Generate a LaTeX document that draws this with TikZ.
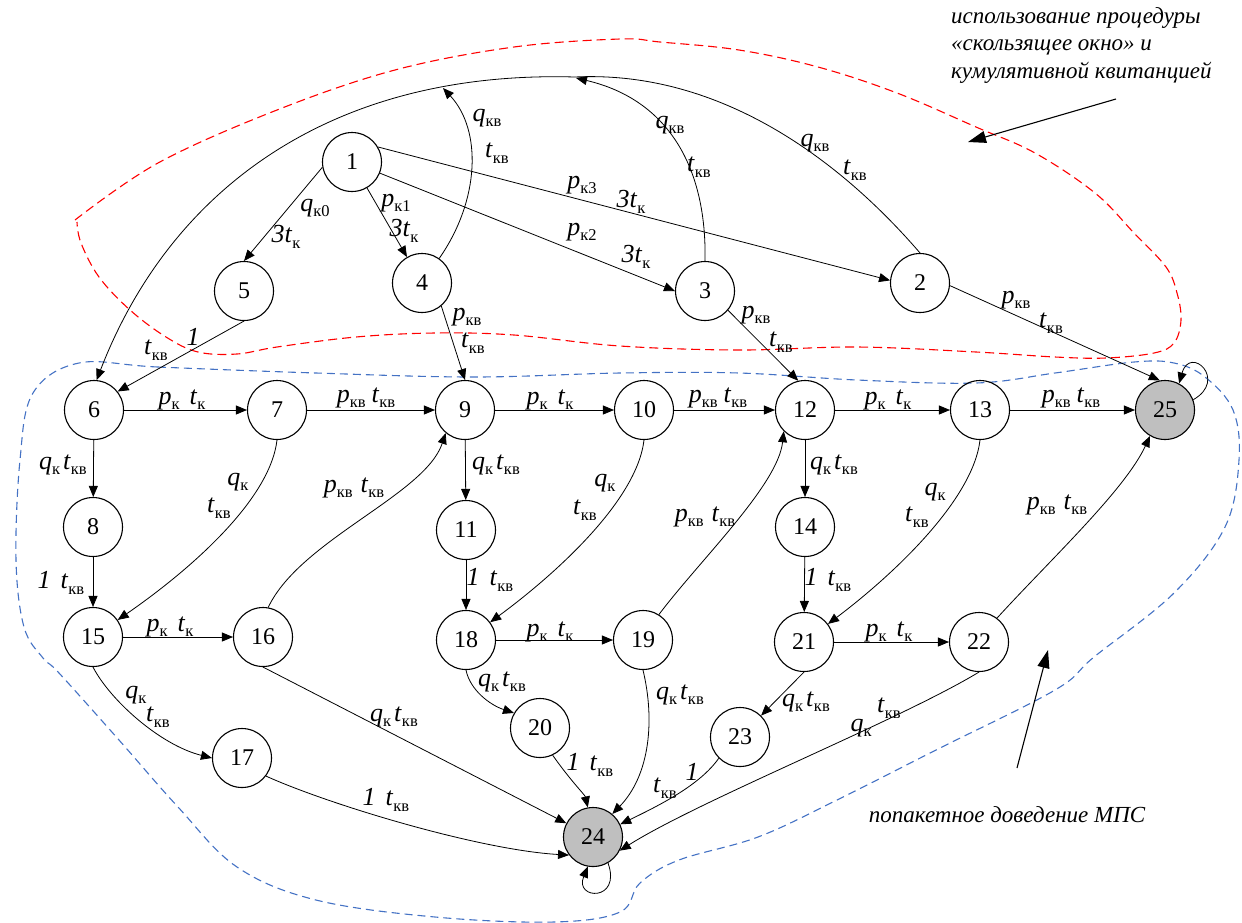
\documentclass[tikz,border=0pt]{standalone}
\usepackage{fontspec}
\setmainfont{Liberation Serif}
\usetikzlibrary{arrows.meta}
\definecolor{bl}{RGB}{68,114,196}
\newcommand{\Lb}[2]{\textit{#1}\raisebox{-0.45ex}{\fontsize{16.5}{16.5}\selectfont #2}}
\begin{document}
\begin{tikzpicture}[x=1pt,y=-1pt,
  st/.style={circle,draw,line width=1.1pt,minimum size=59pt,inner sep=0pt,font=\fontsize{24}{24}\selectfont},
  fin/.style={st,fill=black!25},
  ed/.style={line width=0.8pt,-{Triangle[length=11pt,width=9pt]}},
  lb/.style={font=\fontsize{26}{26}\selectfont,inner sep=0pt},
  note/.style={font=\fontsize{23}{27.5}\selectfont\itshape,inner sep=0pt,align=left},
  bigarr/.style={line width=1.1pt,-{Triangle[length=18pt,width=12pt]}},
  reddash/.style={red,line width=1.1pt,dash pattern=on 9pt off 5pt},
  bluedash/.style={bl,line width=1.1pt,dash pattern=on 8pt off 5pt}]
\useasboundingbox (0,0) rectangle (1242,922);
% zones
\draw[reddash] plot[smooth,tension=0.6] coordinates {(75,220) (158,163) (277,110) (395,70) (514,47) (620,39) (660,42) (739,50) (818,67) (897,93) (976,127) (1035,153) (1095,193) (1134,233) (1166,267) (1177,293) (1181,320) (1174,343) (1154,353) (1106,358) (1055,357) (976,352) (857,347) (739,350) (620,346) (514,335) (435,333) (356,337) (277,347) (237,354) (198,352) (166,337) (130,310) (99,277) (81,243) (77,222)};
\draw[bluedash] plot[smooth cycle,tension=0.6] coordinates {(79,363) (158,367) (316,373) (474,377) (620,373) (739,373) (857,380) (976,383) (1055,373) (1134,362) (1174,363) (1205,377) (1233,410) (1239,460) (1225,527) (1174,593) (1094,657) (1055,690) (936,750) (837,800) (758,837) (679,860) (640,883) (620,912) (554,922) (435,917) (316,900) (237,867) (178,807) (119,740) (59,673) (43,658) (24,627) (16,560) (20,460) (33,393)};
% nodes
\node[st] (n1) at (352,162) {1};
\node[st] (n2) at (920,283) {2};
\node[st] (n3) at (705,291) {3};
\node[st] (n4) at (422,283) {4};
\node[st] (n5) at (244,291) {5};
\node[st] (n6) at (94,410) {6};
\node[st] (n7) at (277,410) {7};
\node[st] (n8) at (93,527) {8};
\node[st] (n9) at (465,410) {9};
\node[st] (n10) at (644,410) {10};
\node[st] (n11) at (466,530) {11};
\node[st] (n12) at (805,410) {12};
\node[st] (n13) at (980,410) {13};
\node[st] (n14) at (805,527) {14};
\node[st] (n15) at (93,637) {15};
\node[st] (n16) at (263,637) {16};
\node[st] (n17) at (242,758) {17};
\node[st] (n18) at (466,640) {18};
\node[st] (n19) at (643,640) {19};
\node[st] (n20) at (540,728) {20};
\node[st] (n21) at (804,642) {21};
\node[st] (n22) at (979,642) {22};
\node[st] (n23) at (740,737) {23};
\node[fin] (n24) at (593,837) {24};
\node[fin] (n25) at (1165,410) {25};
% top edges
\draw[ed] (n1.190) -- (n5.north);
\draw[ed] (n1) -- (n4);
\draw[ed] (n1) -- (n3.west);
\draw[ed] (n1.30) -- (n2.175);
\draw[ed] (n2.north) .. controls (840,160) and (720,70) .. (575,77) .. controls (330,70) and (170,190) .. (n6.85);
\coordinate (k4) at (443,88);
\coordinate (k3) at (576,78);
\draw[ed] (n4.55) .. controls (480,200) and (482,130) .. (k4);
\draw[ed] (n3.north) .. controls (707,170) and (670,100) .. (k3);
\draw[ed] (n5.south) -- (n6.38);
\draw[ed] (n4.-50) -- (n9.north);
\draw[ed] (n3.-40) -- (n12.103);
\draw[ed] (n2.-5) -- (n25.100);
\draw[ed] (n25.20) .. controls +(35,-20) and +(11,-39) .. (n25.62);
% grid
\draw[ed] (n6) -- (n7);
\draw[ed] (n7) -- (n9);
\draw[ed] (n9) -- (n10);
\draw[ed] (n10) -- (n12);
\draw[ed] (n12) -- (n13);
\draw[ed] (n13) -- (n25);
\draw[ed] (n6) -- (n8);
\draw[ed] (n8) -- (n15);
\draw[ed] (n9) -- (n11);
\draw[ed] (n11) -- (n18);
\draw[ed] (n12) -- (n14);
\draw[ed] (n14) -- (n21);
\draw[ed] (n15) -- (n16);
\draw[ed] (n18) -- (n19);
\draw[ed] (n21) -- (n22);
\draw[ed] (n7.south) .. controls (270,500) and (190,570) .. (n15);
\draw[ed] (n10.south) .. controls (637,500) and (557,573) .. (n18);
\draw[ed] (n13.south) .. controls (973,500) and (893,575) .. (n21);
\draw[ed] (n16.80) .. controls (300,540) and (425,495) .. (n9.-130);
\draw[ed] (n19.58) .. controls (700,560) and (778,485) .. (n12.-135);
\draw[ed] (n22.53) .. controls (1050,560) and (1125,490) .. (n25.-120);
% bottom
\draw[ed] (n15.south) .. controls (110,700) and (160,745) .. (n17.west);
\draw[ed] (n16.south) -- (n24);
\draw[ed] (n17.-37) .. controls (330,805) and (480,850) .. (n24.-143);
\draw[ed] (n18.south) .. controls (470,690) and (490,705) .. (n20.150);
\draw[ed] (n20.-65) .. controls (570,780) and (585,795) .. (n24.100);
\draw[ed] (n19.south) .. controls (655,720) and (650,775) .. (n24.50);
\draw[ed] (n21.south) -- (n23);
\draw[ed] (n23.-135) .. controls (700,785) and (660,805) .. (n24.25);
\draw[ed] (n22.south) .. controls (900,720) and (700,800) .. (n24.-27);
\draw[ed] (n24.-60) .. controls (622,902) and (574,900) .. (n24.-100);
% labels
\node[lb] (l15a) at (315,208) {\Lb{q}{к0}};
\node[lb] (l15b) at (286,237) {\Lb{3t}{к}};
\node[lb] (l14a) at (396,203) {\Lb{p}{к1}};
\node[lb] (l14b) at (404,231) {\Lb{3t}{к}};
\node[lb] (l13a) at (582,232) {\Lb{p}{к2}};
\node[lb] (l13b) at (636,257) {\Lb{3t}{к}};
\node[lb] (l12a) at (582,185) {\Lb{p}{к3}};
\node[lb] (l12b) at (631,202) {\Lb{3t}{к}};
\node[lb] (l4a) at (487,118) {\Lb{q}{кв}};
\node[lb] (l4b) at (497,153) {\Lb{t}{кв}};
\node[lb] (l3a) at (670,125) {\Lb{q}{кв}};
\node[lb] (l3b) at (699,167) {\Lb{t}{кв}};
\node[lb] (l26a) at (815,143) {\Lb{q}{кв}};
\node[lb] (l26b) at (855,170) {\Lb{t}{кв}};
\node[lb] (l56a) at (193,337) {\textit{1}};
\node[lb] (l56b) at (156,350) {\Lb{t}{кв}};
\node[lb] (l49a) at (467,317) {\Lb{p}{кв}};
\node[lb] (l49b) at (473,343) {\Lb{t}{кв}};
\node[lb] (l312a) at (756,315) {\Lb{p}{кв}};
\node[lb] (l312b) at (781,342) {\Lb{t}{кв}};
\node[lb] (l225a) at (1016,300) {\Lb{p}{кв}};
\node[lb] (l225b) at (1051,323) {\Lb{t}{кв}};
\node[lb] (l67) at (182,400) {\Lb{p}{к}\hspace{10pt}\Lb{t}{к}};
\node[lb] (l79) at (366,398) {\Lb{p}{кв}\hspace{6pt}\Lb{t}{кв}};
\node[lb] (l910) at (550,400) {\Lb{p}{к}\hspace{10pt}\Lb{t}{к}};
\node[lb] (l1012) at (718,398) {\Lb{p}{кв}\hspace{6pt}\Lb{t}{кв}};
\node[lb] (l1213) at (888,400) {\Lb{p}{к}\hspace{10pt}\Lb{t}{к}};
\node[lb] (l1325) at (1071,398) {\Lb{p}{кв}\hspace{6pt}\Lb{t}{кв}};
\node[lb] (l68) at (63,465) {\Lb{q}{к}\hspace{3pt}\Lb{t}{кв}};
\node[lb] (l815) at (61,583) {\textit{1}\hspace{10pt}\Lb{t}{кв}};
\node[lb] (l715a) at (238,482) {\Lb{q}{к}};
\node[lb] (l715b) at (219,508) {\Lb{t}{кв}};
\node[lb] (l169) at (354,488) {\Lb{p}{кв}\hspace{8pt}\Lb{t}{кв}};
\node[lb] (l911) at (496,465) {\Lb{q}{к}\hspace{3pt}\Lb{t}{кв}};
\node[lb] (l1118) at (490,580) {\textit{1}\hspace{10pt}\Lb{t}{кв}};
\node[lb] (l1018a) at (605,483) {\Lb{q}{к}};
\node[lb] (l1018b) at (585,510) {\Lb{t}{кв}};
\node[lb] (l1516) at (170,627) {\Lb{p}{к}\hspace{10pt}\Lb{t}{к}};
\node[lb] (l1819) at (550,632) {\Lb{p}{к}\hspace{10pt}\Lb{t}{к}};
\node[lb] (l1912) at (705,517) {\Lb{p}{кв}\hspace{8pt}\Lb{t}{кв}};
\node[lb] (l1214) at (834,465) {\Lb{q}{к}\hspace{3pt}\Lb{t}{кв}};
\node[lb] (l1421) at (828,580) {\textit{1}\hspace{10pt}\Lb{t}{кв}};
\node[lb] (l1321a) at (935,492) {\Lb{q}{к}};
\node[lb] (l1321b) at (917,517) {\Lb{t}{кв}};
\node[lb] (l2122) at (889,632) {\Lb{p}{к}\hspace{10pt}\Lb{t}{к}};
\node[lb] (l2225) at (1057,505) {\Lb{p}{кв}\hspace{8pt}\Lb{t}{кв}};
\node[lb] (l1517a) at (136,695) {\Lb{q}{к}};
\node[lb] (l1517b) at (158,717) {\Lb{t}{кв}};
\node[lb] (l1624) at (394,717) {\Lb{q}{к}\hspace{3pt}\Lb{t}{кв}};
\node[lb] (l1724) at (386,800) {\textit{1}\hspace{10pt}\Lb{t}{кв}};
\node[lb] (l1820) at (502,682) {\Lb{q}{к}\hspace{3pt}\Lb{t}{кв}};
\node[lb] (l2024) at (590,765) {\textit{1}\hspace{10pt}\Lb{t}{кв}};
\node[lb] (l1924) at (680,695) {\Lb{q}{к}\hspace{3pt}\Lb{t}{кв}};
\node[lb] (l2123) at (806,702) {\Lb{q}{к}\hspace{3pt}\Lb{t}{кв}};
\node[lb] (l2324a) at (692,772) {\textit{1}};
\node[lb] (l2324b) at (665,788) {\Lb{t}{кв}};
\node[lb] (l2224a) at (889,708) {\Lb{t}{кв}};
\node[lb] (l2224b) at (861,728) {\Lb{q}{к}};
% notes
\node[note,anchor=north west] (t1) at (951,7) {использование процедуры\\«скользящее окно» и\\кумулятивной квитанцией};
\node[note] (t2) at (1007,815) {попакетное доведение МПС};
\coordinate (a1s) at (1116,99);
\coordinate (a1e) at (968,142);
\draw[bigarr] (a1s) -- (a1e);
\coordinate (a2s) at (1017,768);
\coordinate (a2e) at (1048,650);
\draw[bigarr] (a2s) -- (a2e);
\end{tikzpicture}
\end{document}
